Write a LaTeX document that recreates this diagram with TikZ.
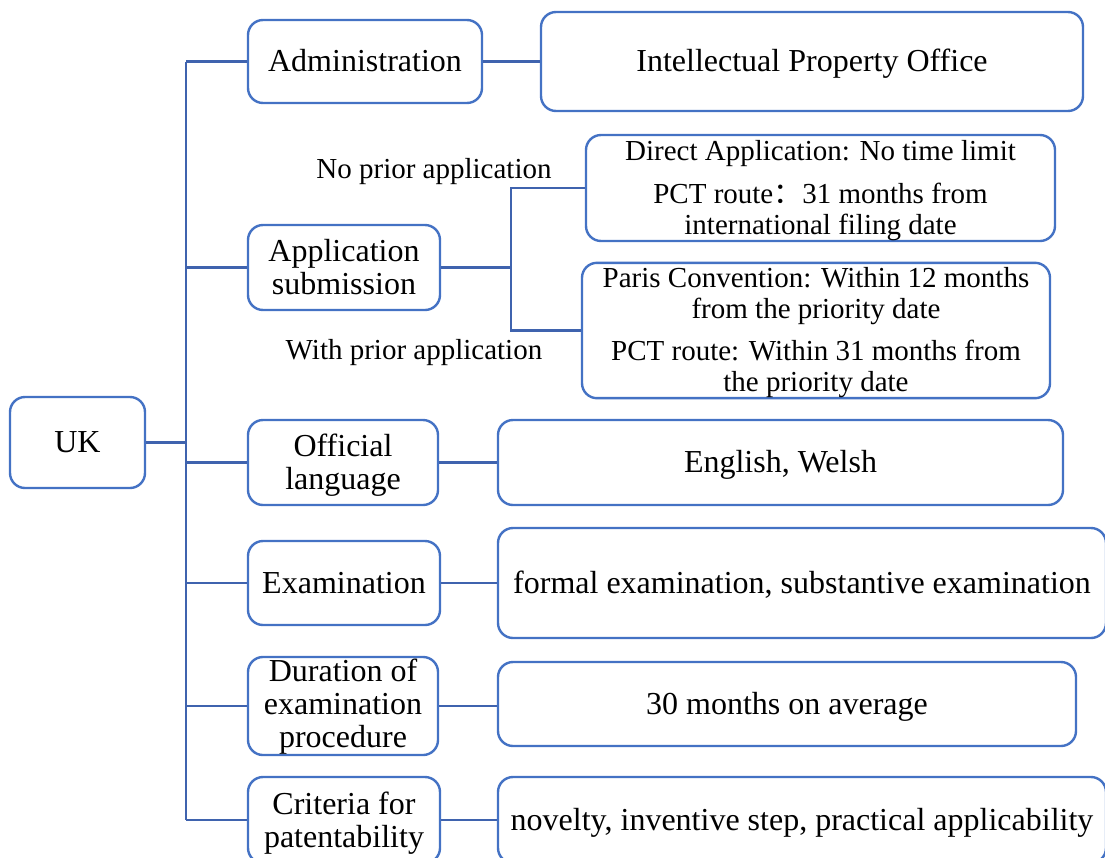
\documentclass[tikz,border=0pt]{standalone}
\usepackage{fontspec}
\setmainfont{Liberation Serif}
\newfontfamily\cjkfont{Noto Sans CJK SC}
\definecolor{boxblue}{HTML}{4472C4}
\definecolor{lineblue}{HTML}{3F63AE}
\newcommand\mytop[1]{\rule{0pt}{#1}}
\begin{document}
\begin{tikzpicture}[x=1pt,y=-1pt,
  textstrut/.style={execute at begin node={\rule{0pt}{0.87em}},
    execute at end node={\rule[-0.22em]{0pt}{0pt}}},
  box/.style={draw=boxblue, line width=2.4pt, rounded corners=15pt, fill=white,
    align=center, inner sep=0pt, textstrut, font=\fontsize{32}{33}\selectfont},
  subbox/.style={box, font=\fontsize{29}{31}\selectfont},
  conn/.style={draw=lineblue, line width=2.4pt},
  lbl/.style={font=\fontsize{29}{31}\selectfont, inner sep=0pt, textstrut}]
\useasboundingbox (0,0) rectangle (1105,857);
% nodes
\node[box, minimum width=135pt, minimum height=91pt] (uk) at (77.5,442.5) {UK};
\node[box, minimum width=234pt, minimum height=83pt] (adm) at (365,61.5) {Administration};
\node[box, minimum width=542pt, minimum height=99pt] (ipo) at (812,61.5) {Intellectual Property Office};
\node[box, minimum width=192pt, minimum height=85pt] (app) at (344,267.5) {\mytop{29pt}Application\\submission};
\node[subbox, minimum width=469pt, minimum height=106pt] (direct) at (820.5,188) {\mytop{25pt}Direct Application: No time limit\\[12pt]PCT route{\cjkfont ：}31 months from\\international filing date};
\node[subbox, minimum width=468pt, minimum height=135pt] (paris) at (816,330.5) {\mytop{25pt}Paris Convention: Within 12 months\\from the priority date\\[11pt]PCT route: Within 31 months from\\the priority date};
\node[lbl] (noprior) at (434,169) {No prior application};
\node[lbl] (withprior) at (414,350) {With prior application};
\node[box, minimum width=190pt, minimum height=85pt] (lang) at (343,462.5) {\mytop{29pt}Official\\language};
\node[box, minimum width=565pt, minimum height=85pt] (eng) at (780.5,462.5) {English, Welsh};
\node[box, minimum width=192pt, minimum height=84pt] (exam) at (344,583) {Examination};
\node[box, minimum width=608pt, minimum height=110pt] (formal) at (802,583) {formal examination, substantive examination};
\node[box, minimum width=190pt, minimum height=98pt] (dur) at (343,706) {\mytop{25pt}Duration of\\examination\\procedure};
\node[box, minimum width=578pt, minimum height=84pt] (avg) at (787,704) {30 months on average};
\node[box, minimum width=192pt, minimum height=86pt] (crit) at (344,820) {\mytop{29pt}Criteria for\\patentability};
\node[box, minimum width=608pt, minimum height=86pt] (nov) at (802,820) {novelty, inventive step, practical applicability};
% trunk
\coordinate (ttop) at (186,61.5);
\coordinate (tbot) at (186,820);
\coordinate (tuk) at (186,442.5);
\coordinate (split) at (511,267.5);
\path[conn] (ttop) -- (tbot);
\path[conn] (uk.east) -- (tuk);
\foreach \n in {adm,app,lang,exam,dur,crit}{
  \path[conn] (\n.west) -- (\n.west -| ttop);
}
\path[conn] (adm.east) -- (ipo.west);
\path[conn] (lang.east) -- (eng.west);
\path[conn] (exam.east) -- (formal.west);
\path[conn] (dur.east) -- (dur.east -| avg.west);
\path[conn] (crit.east) -- (nov.west);
\path[conn] (app.east) -- (split);
\path[conn] (split) |- (direct.west);
\path[conn] (split) |- (paris.west);
\end{tikzpicture}
\end{document}
